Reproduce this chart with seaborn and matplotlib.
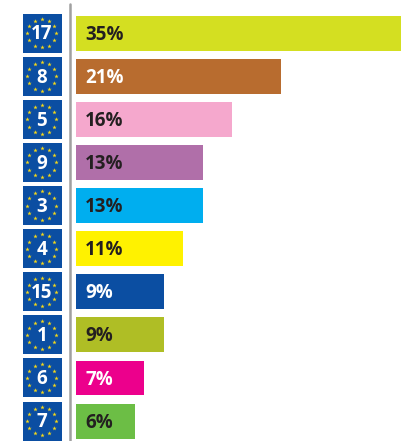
import numpy as np
import pandas as pd
import matplotlib
matplotlib.use("Agg")
import matplotlib.pyplot as plt
from matplotlib.patches import Rectangle
import seaborn as sns

# values
badges = ["17", "8", "5", "9", "3", "4", "15", "1", "6", "7"]
shares = [35, 21, 16, 13, 13, 11, 9, 9, 7, 6]
bar_colors = ["#d4df21", "#b86c2f", "#f5a8cd", "#b06fa9", "#00aeef",
              "#fff200", "#0b4ea2", "#afbe25", "#ec008c", "#6cbe45"]
label_colors = ["#231f20", "#ffffff", "#231f20", "#231f20", "#231f20",
                "#231f20", "#ffffff", "#231f20", "#ffffff", "#231f20"]

sns.set_theme(style="white")
plt.rcParams['font.family'] = ['Open Sans', 'DejaVu Sans']

W, H = 401, 441
PX_PER_PCT = 9.76
BAR_LEFT = 76
ROW = 43.1
FIRST_ROW = 33.2

df = pd.DataFrame({"badge": badges, "share": shares})

fig = plt.figure(figsize=(W / 100, H / 100), dpi=100)
ax = fig.add_axes([0, 0, 1, 1])
sns.barplot(data=df, y="badge", x="share", hue="badge", order=badges, hue_order=badges,
            palette=bar_colors, dodge=False, width=0.81, legend=False, saturation=1,
            linewidth=0, ax=ax)
ax.set_xlim(-BAR_LEFT / PX_PER_PCT, (W - BAR_LEFT) / PX_PER_PCT)
ax.set_ylim((H - FIRST_ROW) / ROW, -FIRST_ROW / ROW)
ax.axis("off")

for i, (s, c) in enumerate(zip(shares, label_colors)):
    ax.text(9 / PX_PER_PCT, i + 0.035, f"{s}%", color=c, fontsize=13.5, fontweight="bold",
            va="center", ha="left")

# left strip in pixel coordinates for x, sharing the category rows
ax2 = fig.add_axes([0, 0, 1, 1], sharey=ax)
ax2.set_xlim(0, W)
ax2.patch.set_alpha(0)
ax2.axis("off")
ax2.plot([70, 70], [(4 - FIRST_ROW) / ROW, (H - FIRST_ROW) / ROW], color="#a0a0a0", lw=1.8)

angles = np.deg2rad(np.arange(0, 360, 30))
for i, b in enumerate(badges):
    ax2.add_patch(Rectangle((22.5, i - 19.5 / ROW), 39, 39 / ROW, facecolor="#0b4ea2",
                            edgecolor="none"))
    ax2.scatter(41.8 + 14.3 * np.cos(angles), i + 14.3 * np.sin(angles) / ROW, marker="*",
                s=11, color="#f7d917", linewidths=0, zorder=3)
    ax2.text(41.8, i + 0.03, b, color="white", fontsize=13.5, fontweight="bold",
             ha="center", va="center", zorder=4)

fig.savefig("out.png", dpi=100)
